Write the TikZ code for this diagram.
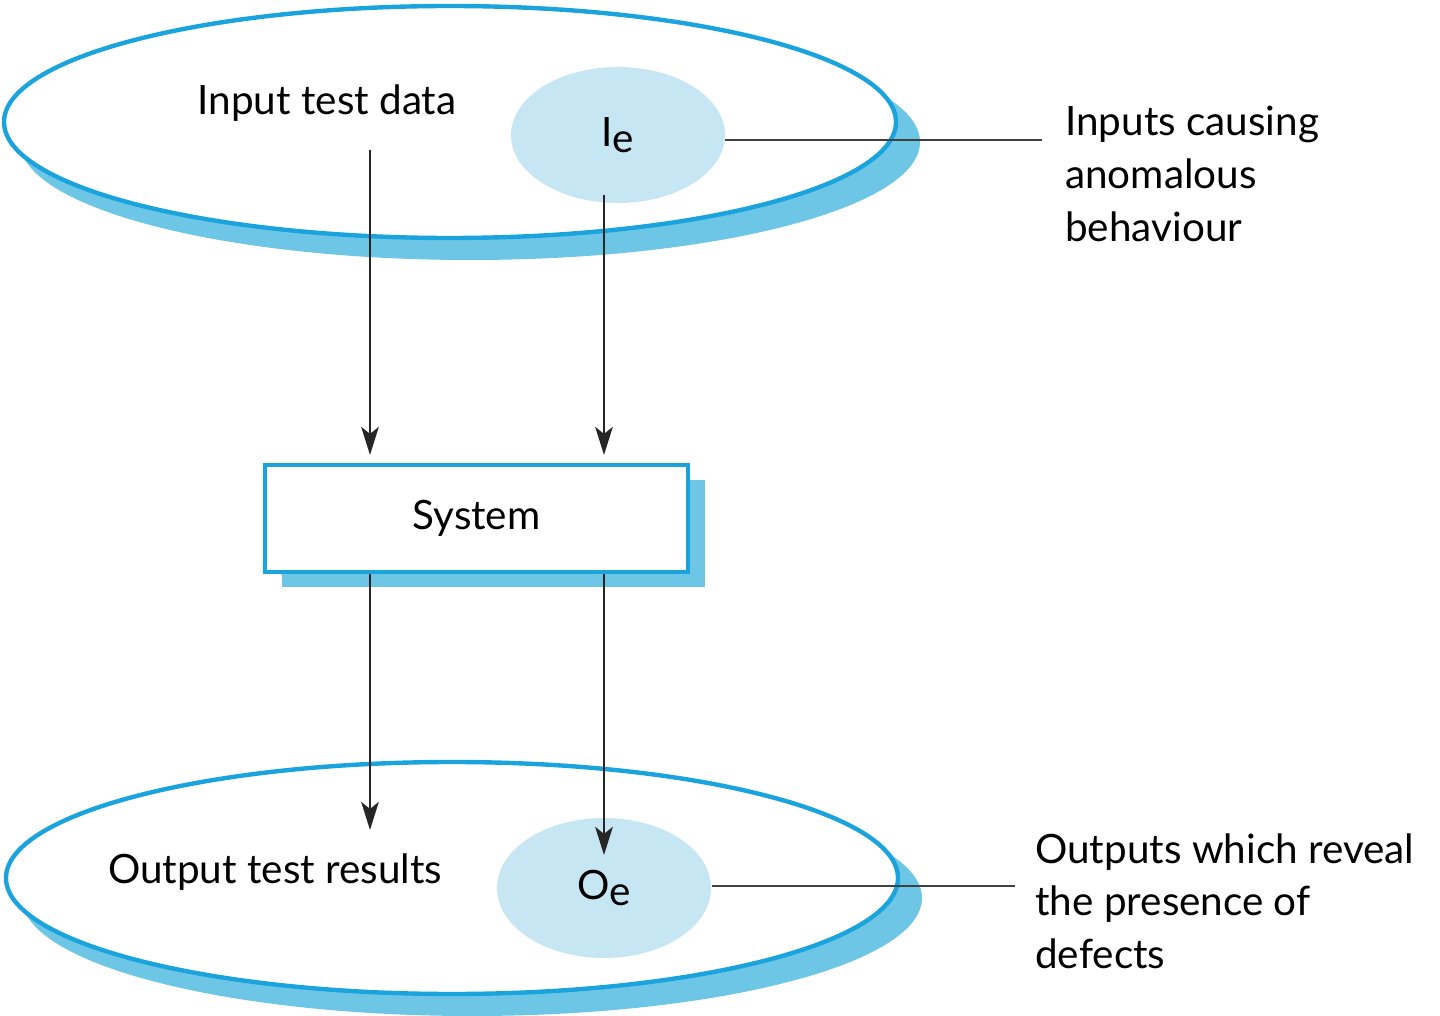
\documentclass[tikz,border=0pt]{standalone}
\usepackage{fontspec}
\setmainfont{Lato}
\usetikzlibrary{arrows.meta,shapes.geometric}
\definecolor{edge}{HTML}{1AA3DC}
\definecolor{shad}{HTML}{6EC6E6}
\definecolor{inner}{HTML}{C5E6F2}
\begin{document}
\begin{tikzpicture}[x=0.02cm,y=-0.02cm,
  txt/.style={font=\fontsize{23}{30}\selectfont,inner sep=0pt},
  lbl/.style={txt,align=left,anchor=north west},
  arr/.style={draw=black!85,line width=1.2pt,-{Stealth[length=16pt,width=10pt,inset=4pt]}},
  lead/.style={draw=black!75,line width=1.2pt}]
\useasboundingbox (0,0) rectangle (1440,1016);
% top set
\fill[shad] (470,142) ellipse [x radius=450,y radius=118];
\filldraw[fill=white,draw=edge,line width=2.5pt] (450,122) ellipse [x radius=446,y radius=116];
\node[fill=inner,ellipse,minimum width=4.28cm,minimum height=2.72cm,inner sep=0pt] (ie) at (618,135) {};
\node[txt] at (618,135) {I\raisebox{-0.3ex}{e}};
\node[txt] (itd) at (327,103) {Input test data};
\node[lbl] (il) at (1065,106) {Inputs causing\\anomalous\\behaviour};
\coordinate (ilc) at (1042,140);
\draw[lead] (725,140) -- (ilc);
% system
\fill[shad] (282,480) rectangle (705,587);
\node[draw=edge,line width=2.5pt,fill=white,minimum width=8.46cm,minimum height=2.14cm,inner sep=0pt,txt] (sys) at (476.5,518.5) {System};
% bottom set
\fill[shad] (472,898) ellipse [x radius=450,y radius=118];
\filldraw[fill=white,draw=edge,line width=2.5pt] (452,878) ellipse [x radius=446,y radius=116];
\node[fill=inner,ellipse,minimum width=4.28cm,minimum height=2.8cm,inner sep=0pt] (oe) at (604,888) {};
\node[txt] at (604,888) {O\raisebox{-0.3ex}{e}};
\node[txt] (otr) at (275,872) {Output test results};
\node[lbl] (ol) at (1035,833) {Outputs which reveal\\the presence of\\defects};
\coordinate (olc) at (1015,886);
\draw[lead] (712,886) -- (olc);
% arrows
\coordinate (a1) at (370,150); \coordinate (a1e) at (370,455);
\coordinate (a2) at (604,195); \coordinate (a2e) at (604,455);
\coordinate (b1) at (370,574); \coordinate (b1e) at (370,830);
\coordinate (b2) at (604,574); \coordinate (b2e) at (604,855);
\draw[arr] (a1) -- (a1e);
\draw[arr] (a2) -- (a2e);
\draw[arr] (b1) -- (b1e);
\draw[arr] (b2) -- (b2e);
\end{tikzpicture}
\end{document}
